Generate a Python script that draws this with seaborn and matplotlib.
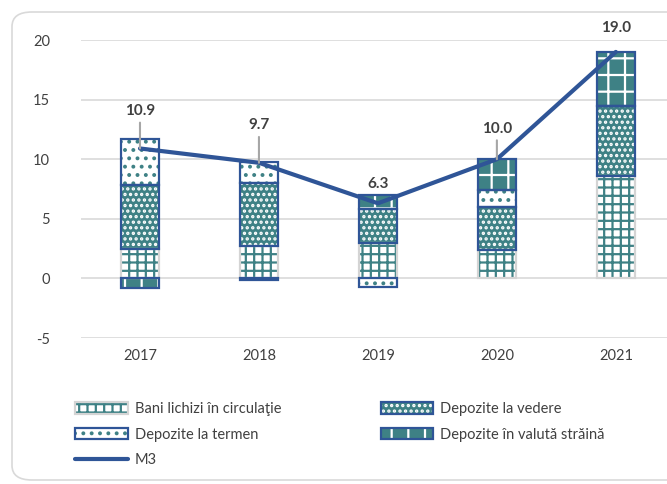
import matplotlib
matplotlib.use("Agg")
import numpy as np
import matplotlib.pyplot as plt
import seaborn as sns
import pandas as pd
from matplotlib.patches import Patch, FancyBboxPatch
from matplotlib.lines import Line2D

# date (mld lei, contribuții la creșterea M3)
ani = ["2017", "2018", "2019", "2020", "2021"]
bani_lichizi = [2.5, 2.7, 3.0, 2.4, 8.6]
depozite_vedere = [5.3, 5.3, 2.8, 3.6, 5.9]
depozite_termen = [3.9, 1.8, -0.7, 1.4, 0.0]
depozite_valuta = [-0.8, -0.1, 1.2, 2.6, 4.5]
m3 = [10.9, 9.7, 6.3, 10.0, 19.0]

TEAL = "#3E8185"
BLUE = "#2F5597"
GREY = "#D4D4D4"

sns.set_theme(style="white")
plt.rcParams["font.family"] = ["Lato", "DejaVu Sans"]
plt.rcParams["hatch.linewidth"] = 1.6
plt.rcParams["axes.unicode_minus"] = False

fig = plt.figure(figsize=(6.67, 4.84), dpi=100)
ax = fig.add_axes([80.5 / 667, 146 / 484, 586.5 / 667, 298 / 484])

# stiluri: (fundal, culoare hașură, hașură, contur)
series = [
    ("Bani lichizi în circulaţie", bani_lichizi, "white", TEAL, "++", GREY),
    ("Depozite la vedere", depozite_vedere, TEAL, "white", "...", BLUE),
    ("Depozite la termen", depozite_termen, "white", TEAL, "..", BLUE),
    ("Depozite în valută străină", depozite_valuta, TEAL, "white", "+", BLUE),
]

x = np.arange(len(ani))
width = 0.32
pos_bottom = np.zeros(len(ani))
neg_bottom = np.zeros(len(ani))
handles = {}
for name, vals, face, hcol, hatch, edge in series:
    vals = np.array(vals)
    bottom = np.where(vals >= 0, pos_bottom, neg_bottom)
    ax.bar(x, vals, width, bottom=bottom, color=face, edgecolor=hcol,
           hatch=hatch, linewidth=0, zorder=2)
    ax.bar(x, vals, width, bottom=bottom, fill=False, edgecolor=edge,
           linewidth=1.6, zorder=3)
    pos_bottom += np.where(vals >= 0, vals, 0)
    neg_bottom += np.where(vals < 0, vals, 0)
    handles[name] = (Patch(facecolor=face, edgecolor=hcol, hatch=hatch, linewidth=0),
                     Patch(fill=False, edgecolor=edge, linewidth=1.6))

df = pd.DataFrame({"x": x, "M3": m3})
sns.lineplot(data=df, x="x", y="M3", color=BLUE, linewidth=3, ax=ax, zorder=4)

offsets = [(0, 27), (0, 27), (0, 14), (0, 22), (0, 17)]
for xi, v, off in zip(x, m3, offsets):
    arrow = dict(arrowstyle="-", color="#A6A6A6", lw=1.5, shrinkA=1, shrinkB=0) if off[1] >= 22 else None
    ax.annotate(f"{v:.1f}", (xi, v), xytext=off, textcoords="offset points",
                ha="center", va="center", fontsize=11, fontweight="bold",
                color="#404040", arrowprops=arrow, zorder=5)

ax.set_xlim(-0.5, 4.43)
ax.set_ylim(-5, 20)
ax.set_yticks([-5, 0, 5, 10, 15, 20])
ax.set_xticks(x)
ax.set_xticklabels(ani)
ax.set_xlabel("")
ax.set_ylabel("")
ax.grid(axis="y", color="#D9D9D9", linewidth=1.2, zorder=0)
ax.set_axisbelow(True)
for s in ax.spines.values():
    s.set_visible(False)
ax.tick_params(axis="both", length=0, labelsize=10.5, colors="#404040")
ax.tick_params(axis="y", pad=22)
ax.tick_params(axis="x", pad=8)

leg_handles = [handles["Bani lichizi în circulaţie"], handles["Depozite la termen"],
               Line2D([], [], color=BLUE, linewidth=3),
               handles["Depozite la vedere"], handles["Depozite în valută străină"]]
leg_labels = ["Bani lichizi în circulaţie", "Depozite la termen", "M3",
              "Depozite la vedere", "Depozite în valută străină"]
fig.legend(leg_handles, leg_labels, ncol=2, loc="upper left",
           bbox_to_anchor=(62 / 667, 1 - 389 / 484), frameon=False,
           fontsize=10.5, handlelength=3.6, handleheight=0.8,
           columnspacing=6.8, labelspacing=0.8, handletextpad=0.5,
           labelcolor="#404040")

border = FancyBboxPatch((12 / 667, 4 / 484), 700 / 667, 468 / 484,
                        boxstyle="round,pad=0,rounding_size=0.03",
                        transform=fig.transFigure, fill=False,
                        edgecolor="#D9D9D9", linewidth=1.2)
fig.patches.append(border)

fig.savefig("out.png", dpi=100)
